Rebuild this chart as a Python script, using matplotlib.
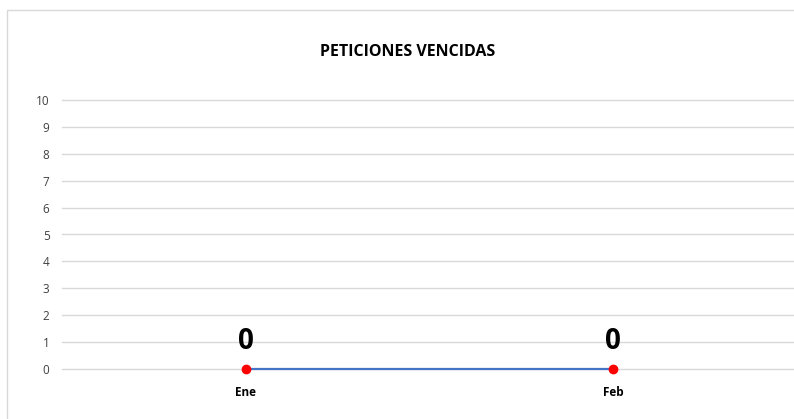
import matplotlib.pyplot as plt
import matplotlib.patches as patches

meses = ['Ene', 'Feb']
vencidas = [0, 0]
yticks = list(range(0, 11))

plt.rcParams['font.family'] = ['Open Sans', 'DejaVu Sans']

fig = plt.figure(figsize=(7.94, 4.19), dpi=100)
# light frame around the chart
fig.patches.append(patches.Rectangle((7/794, -0.1), 1.0, (419-10)/419 + 0.1,
                                     transform=fig.transFigure, fill=False,
                                     edgecolor='#d9d9d9', lw=1))

ax = fig.add_axes([62/794, (419-369)/419, (794-62)/794, (369-100)/419])
x = list(range(len(meses)))
ax.plot(x, vencidas, color='#4472C4', lw=1.6, zorder=3, clip_on=False)
ax.plot(x, vencidas, 'o', color='#FF0000', ms=6, zorder=4, clip_on=False)
for xi, v in zip(x, vencidas):
    ax.annotate(str(v), (xi, v), xytext=(0, 20), textcoords='offset points',
                ha='center', va='center', fontsize=20, fontweight='bold')

ax.set_xlim(-0.501, 1.493)
ax.set_ylim(0, 10)
ax.set_yticks(yticks)
ax.set_xticks(x)
ax.set_xticklabels(meses, fontweight='bold', fontsize=8.5)
ax.tick_params(axis='y', labelsize=8.5, length=0, pad=9, colors='#404040')
ax.tick_params(axis='x', length=0, pad=12)
ax.grid(axis='y', color='#d9d9d9', lw=1)
for gl in ax.get_ygridlines():
    gl.set_clip_on(False)
ax.set_axisbelow(True)
for s in ax.spines.values():
    s.set_visible(False)

fig.text(408/794, 1 - 52/419, 'PETICIONES VENCIDAS', ha='center', va='center',
         fontsize=11.5, fontweight='bold')

fig.savefig('out.png', dpi=100)
